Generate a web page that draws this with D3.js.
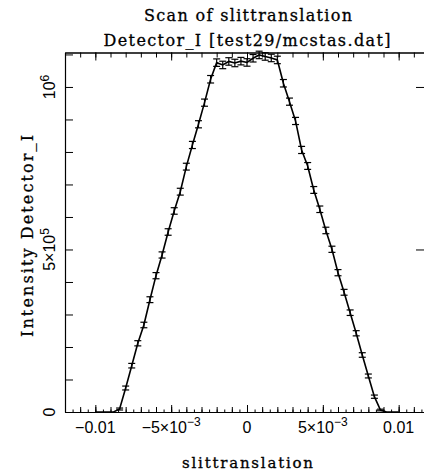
<!DOCTYPE html>
<html>
<head>
<meta charset="utf-8">
<script src="https://cdn.jsdelivr.net/npm/d3@7"></script>
<style>
  body { margin: 0; background: #fff; }
  text { fill: #000; }
</style>
</head>
<body>
<svg id="chart" width="424" height="475"></svg>
<script>
// scan positions (slittranslation) and measured intensity with errors
var positions = [-0.0100, -0.0096, -0.0092, -0.0088, -0.0084, -0.0080, -0.0076, -0.0072, -0.0068, -0.0064,
  -0.0060, -0.0056, -0.0052, -0.0048, -0.0044, -0.0040, -0.0036, -0.0032, -0.0028, -0.0024,
  -0.0020, -0.0016, -0.0012, -0.0008, -0.0004, 0.0000, 0.0004, 0.0008, 0.0012, 0.0016,
  0.0020, 0.0024, 0.0028, 0.0032, 0.0036, 0.0040, 0.0044, 0.0048, 0.0052, 0.0056,
  0.0060, 0.0064, 0.0068, 0.0072, 0.0076, 0.0080, 0.0084, 0.0088, 0.0092, 0.0096, 0.0100];
var intensity = [0, 0, 0, 0, 9200, 73800, 142500, 211400, 267700, 345500,
  419400, 483100, 553800, 618500, 677800, 754800, 821500, 885200, 951700, 1023700,
  1074800, 1067700, 1078500, 1073800, 1079400, 1075400, 1088300, 1098500, 1093800, 1089200,
  1083100, 1011400, 954800, 895400, 806200, 756900, 683100, 623700, 558500, 500600,
  428600, 368300, 305500, 242200, 175400, 110800, 47100, 6200, 0, 0, 0];
var errors = [0, 0, 0, 0, 3000, 6000, 7000, 8000, 8500, 9000,
  9500, 9500, 10000, 10000, 10500, 10500, 11000, 11000, 11000, 11500,
  11500, 11500, 11500, 11500, 11500, 11500, 11500, 11500, 11500, 11500,
  11500, 11500, 11000, 11000, 11000, 10500, 10500, 10000, 10000, 9500,
  9500, 9000, 8500, 8000, 7000, 6000, 5000, 2500, 0, 0, 0];

var xTicksMajor = [-0.01, -0.005, 0, 0.005, 0.01];
var yTicksMajor = [0, 500000, 1000000];

var title1 = "Scan of slittranslation";
var title2 = "Detector_I [test29/mcstas.dat]";
var xTitle = "slittranslation";
var yTitle = "Intensity Detector_I";

var data = positions.map(function (p, i) { return { x: p, y: intensity[i], e: errors[i] }; });

var svg = d3.select("#chart");
var x = d3.scaleLinear().domain([-0.012, 0.012]).range([65, 429]);
var y = d3.scaleLinear().domain([0, 1.106e6]).range([412, 52.5]);

var serifFont = "'DejaVu Serif', 'Liberation Serif', serif";
var sansFont = "'Liberation Sans', Arial, sans-serif";

// ---- ticks ----
function axisStyle(g) {
  g.selectAll("path").attr("stroke", "#000").attr("stroke-width", 1.2);
  g.selectAll("line").attr("stroke", "#000").attr("stroke-width", 1);
  g.selectAll("text").remove();
}
var halfMil = d3.range(-24, 25).map(function (k) { return k * 5e-4; });
var oneMil = d3.range(-12, 13).map(function (k) { return k * 1e-3; });

// bottom
svg.append("g").attr("transform", "translate(0,412)")
  .call(d3.axisTop(x).tickValues(halfMil).tickSize(2.5).tickSizeOuter(0)).call(axisStyle);
svg.append("g").attr("transform", "translate(0,412)")
  .call(d3.axisTop(x).tickValues(oneMil).tickSize(5).tickSizeOuter(0)).call(axisStyle);
svg.append("g").attr("transform", "translate(0,412)")
  .call(d3.axisTop(x).tickValues(xTicksMajor).tickSize(7).tickSizeOuter(0)).call(axisStyle);
// top
svg.append("g").attr("transform", "translate(0,52.5)")
  .call(d3.axisBottom(x).tickValues(oneMil).tickSize(5).tickSizeOuter(0)).call(axisStyle);
svg.append("g").attr("transform", "translate(0,52.5)")
  .call(d3.axisBottom(x).tickValues(xTicksMajor).tickSize(8).tickSizeOuter(0)).call(axisStyle);
// left / right
var yMinor = d3.range(0, 12).map(function (k) { return k * 1e5; });
svg.append("g").attr("transform", "translate(65,0)")
  .call(d3.axisRight(y).tickValues(yMinor).tickSize(8).tickSizeOuter(0)).call(axisStyle);
svg.append("g").attr("transform", "translate(429,0)")
  .call(d3.axisLeft(y).tickValues(yMinor).tickSize(5).tickSizeOuter(0)).call(axisStyle);
svg.append("g").attr("transform", "translate(429,0)")
  .call(d3.axisLeft(y).tickValues(yTicksMajor).tickSize(13).tickSizeOuter(0)).call(axisStyle);

// ---- tick labels ----
function sciLabel(sel, v, axis, supDy, supSize) {
  if (v === 0) { sel.text("0"); return; }
  if (axis === "x" && Math.abs(v) >= 0.01) { sel.text(v < 0 ? "\u22120.01" : "0.01"); return; }
  var exp = Math.floor(Math.log10(Math.abs(v)) + 1e-9);
  var mant = Math.round(v / Math.pow(10, exp));
  var base = (mant < 0 ? "\u2212" : "") + (Math.abs(mant) === 1 ? "" : Math.abs(mant) + "\u00d7") + "10";
  sel.append("tspan").text(base);
  sel.append("tspan").attr("dy", supDy).attr("font-size", supSize)
    .text((exp < 0 ? "\u2212" : "") + Math.abs(exp));
}
xTicksMajor.forEach(function (v) {
  var t = svg.append("text").attr("x", x(v)).attr("y", 433)
    .attr("text-anchor", "middle").attr("font-family", sansFont).attr("font-size", 16);
  sciLabel(t, v, "x", -7, 12);
});
yTicksMajor.forEach(function (v) {
  var t = svg.append("text").attr("transform", "translate(55," + y(v) + ") rotate(-90)")
    .attr("text-anchor", "middle").attr("font-family", sansFont).attr("font-size", 16);
  sciLabel(t, v, "y", -6, 12);
});

// ---- titles ----
function title(txt, tx, ty, rot, len, size) {
  svg.append("text").attr("transform", "translate(" + tx + "," + ty + ")" + (rot ? " rotate(-90)" : ""))
    .attr("text-anchor", "middle").attr("font-family", serifFont).attr("font-size", size)
    .attr("stroke", "#000").attr("stroke-width", 0.3)
    .attr("textLength", len).attr("lengthAdjust", "spacing")
    .text(txt);
}
title(title1, 248, 21, false, 208, 16);
title(title2, 247, 46, false, 287, 16);
title(xTitle, 247.5, 468, false, 131, 15);
title(yTitle, 33, 236, true, 202, 16);

// ---- data ----
var plot = svg.append("g");
plot.append("path").datum(data)
  .attr("fill", "none").attr("stroke", "#000").attr("stroke-width", 1.6)
  .attr("d", d3.line().x(function (d) { return x(d.x); }).y(function (d) { return y(d.y); }));

var bars = plot.selectAll("g.err").data(data.filter(function (d) { return d.y > 0; }))
  .enter().append("g").attr("class", "err");
bars.append("line")
  .attr("x1", function (d) { return x(d.x); }).attr("x2", function (d) { return x(d.x); })
  .attr("y1", function (d) { return y(d.y - d.e); }).attr("y2", function (d) { return y(d.y + d.e); })
  .attr("stroke", "#000").attr("stroke-width", 1.2);
[-1, 1].forEach(function (s) {
  bars.append("line")
    .attr("x1", function (d) { return x(d.x) - 3.5; }).attr("x2", function (d) { return x(d.x) + 3.5; })
    .attr("y1", function (d) { return y(d.y + s * d.e); }).attr("y2", function (d) { return y(d.y + s * d.e); })
    .attr("stroke", "#000").attr("stroke-width", 1.2);
});
</script>
</body>
</html>
